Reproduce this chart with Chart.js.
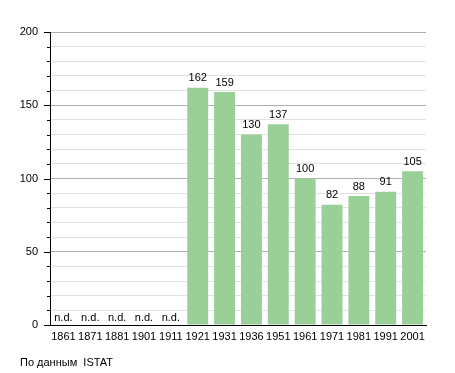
<!DOCTYPE html>
<html>
<head>
<meta charset="utf-8">
<script src="https://cdn.jsdelivr.net/npm/chart.js@4/dist/chart.umd.min.js"></script>
<style>
  body { margin: 0; background: #fff; }
  #wrap { position: relative; width: 455px; height: 373px; }
  #src { position: absolute; left: 20px; top: 356px; font: 11px "Liberation Sans", Arial, sans-serif; color: #000; }
</style>
</head>
<body>
<div id="wrap">
  <canvas id="chart" width="455" height="373"></canvas>
  <div id="src">По данным&nbsp; ISTAT</div>
</div>
<script>
const years = ['1861', '1871', '1881', '1901', '1911', '1921', '1931', '1936', '1951', '1961', '1971', '1981', '1991', '2001'];
const values = [null, null, null, null, null, 162, 159, 130, 137, 100, 82, 88, 91, 105];
const yTicks = [0, 50, 100, 150, 200];

const font = { family: '"Liberation Sans", Arial, sans-serif', size: 11 };

// etichette sopra le barre + tacche dell'asse y
const labelsPlugin = {
    id: 'labels',
    afterDatasetsDraw(chart) {
        const ctx = chart.ctx;
        const meta = chart.getDatasetMeta(0);
        const y = chart.scales.y;
        ctx.save();
        ctx.font = '11px "Liberation Sans", Arial, sans-serif';
        ctx.fillStyle = '#000';
        ctx.textAlign = 'center';
        ctx.textBaseline = 'bottom';
        meta.data.forEach(function (bar, i) {
            const v = values[i];
            if (v === null) {
                ctx.fillText('n.d.', bar.x, y.getPixelForValue(0) - 2);
            } else {
                ctx.fillText(String(v), bar.x, bar.y - 4);
            }
        });
        // tacche
        ctx.strokeStyle = '#000';
        ctx.lineWidth = 1;
        const x0 = chart.chartArea.left;
        for (let v = 0; v <= 200; v += 10) {
            const py = Math.round(y.getPixelForValue(v)) + 0.5;
            const len = v % 50 === 0 ? 6 : 3;
            ctx.beginPath();
            ctx.moveTo(x0 - len, py);
            ctx.lineTo(x0, py);
            ctx.stroke();
        }
        ctx.restore();
    }
};

new Chart(document.getElementById('chart').getContext('2d'), {
    type: 'bar',
    data: {
        labels: years,
        datasets: [{
            data: values,
            backgroundColor: '#9bcf98',
            borderWidth: 0,
            barPercentage: 0.78,
            categoryPercentage: 1
        }]
    },
    options: {
        responsive: false,
        animation: false,
        layout: { padding: { top: 32, right: 29, left: 0, bottom: 0 } },
        plugins: {
            legend: { display: false },
            tooltip: { enabled: false }
        },
        scales: {
            x: {
                grid: { display: false, drawTicks: false },
                border: { color: '#000', width: 1 },
                ticks: { color: '#000', font: font, padding: 5, maxRotation: 0, autoSkip: false },
                afterFit(scale) { scale.height = 48; }
            },
            y: {
                min: 0,
                max: 200,
                grid: {
                    drawTicks: false,
                    color: function (c) { return c.tick.value % 50 === 0 ? '#b0b0b0' : '#e2e2e2'; }
                },
                border: { color: '#000', width: 1 },
                ticks: {
                    stepSize: 10,
                    color: '#000',
                    font: font,
                    padding: 12,
                    autoSkip: false,
                    callback: function (v) { return yTicks.includes(v) ? v : ''; }
                },
                afterFit(scale) { scale.width = 50; }
            }
        }
    },
    plugins: [labelsPlugin]
});
</script>
</body>
</html>
